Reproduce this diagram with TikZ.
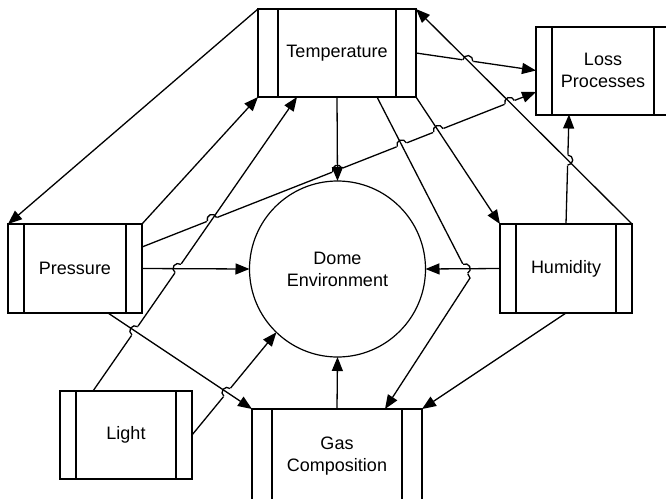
\documentclass[tikz,border=0pt]{standalone}
\usepackage{fontspec}
\setmainfont{Liberation Sans}
\usetikzlibrary{arrows.meta}
\newcommand{\bars}[2]{\draw[line width=2pt] ([xshift=#2pt]#1.north west) -- ([xshift=#2pt]#1.south west)
  ([xshift=-#2pt]#1.north east) -- ([xshift=-#2pt]#1.south east);}
\newcommand{\hop}[2]{\begin{scope}[shift={#1},rotate=#2]
  \fill[white] (-5.5,-1.6) rectangle (5.5,1.6);
  \draw[line width=1.3pt] (-5,0) arc[start angle=180,end angle=360,radius=5];
  \end{scope}}

\begin{document}
\begin{tikzpicture}[x=1pt,y=-1pt,
  box/.style={draw,line width=2pt,minimum height=88pt,inner sep=0pt,outer sep=0pt,align=center},
  link/.style={line width=1.3pt,-{Triangle[length=14pt,width=11pt]}},
  every node/.style={font=\fontsize{18}{22}\selectfont}]
\path[use as bounding box,fill=white] (0,0) rectangle (666,498);
\node[box,minimum width=158pt] (T) at (337,53) {Temperature};
\node[box,minimum width=134pt] (L) at (603,70.5) {Loss\\Processes};
\node[box,minimum width=134pt,minimum height=89pt] (P) at (75,268.5) {Pressure};
\node[box,minimum width=132pt,minimum height=89pt] (H) at (566,268.5) {Humidity};
\node[box,minimum width=132pt] (Li) at (126,435) {Light};
\node[box,minimum width=170pt,minimum height=94pt] (G) at (337,456) {Gas\\Composition};
\node[draw,circle,line width=1.2pt,minimum size=176pt,inner sep=0pt,outer sep=0pt,align=center] (D) at (337.5,269) {Dome\\Environment};
\bars{T}{20} \bars{L}{16} \bars{P}{16} \bars{H}{16} \bars{Li}{16} \bars{G}{20}
\coordinate (bend) at (470,278);
\draw[link] ([yshift=21.5pt]P.east) -- ([yshift=-21.5pt]L.west);
\hop{(212.0,219.4)}{21.47} \hop{(337.4,170.2)}{21.47} \hop{(401.8,144.8)}{21.47}
\hop{(438.3,130.4)}{21.47} \hop{(509.7,102.3)}{21.47}
\draw[link] (T.east) -- (L.west);
\hop{(467.8,60.55)}{-8.3}
\draw[link] (H.north) -- ([xshift=33pt]L.south west);
\hop{(567.75,160.05)}{268.43}
\draw[link] ([xshift=33pt]Li.north west) -- ([xshift=39pt]T.south west);
\hop{(134.8,330.8)}{55.24} \hop{(178.0,268.5)}{55.24}
\draw[link] (Li.east) -- (D.226);
\hop{(227.0,392.4)}{50.59}
\draw[link] ([xshift=119pt]T.south west) -- (bend) -- ([xshift=133pt]G.north west);
\hop{(465.3,268.8)}{-62.8}
\draw[link] (T.north west) -- (P.north west);
\draw[link] (P.north east) -- (T.south west);
\draw[link] (T.south) -- (D.north);
\draw[link] (T.south east) -- (H.north west);
\draw[link] (H.north east) -- (T.north east);
\draw[link] (P.east) -- (D.west);
\draw[link] (H.west) -- (D.east);
\draw[link] ([xshift=100pt]P.south west) -- (G.north west);
\draw[link] (G.north) -- (D.south);
\draw[link] (H.south) -- (G.north east);
\end{tikzpicture}
\end{document}
